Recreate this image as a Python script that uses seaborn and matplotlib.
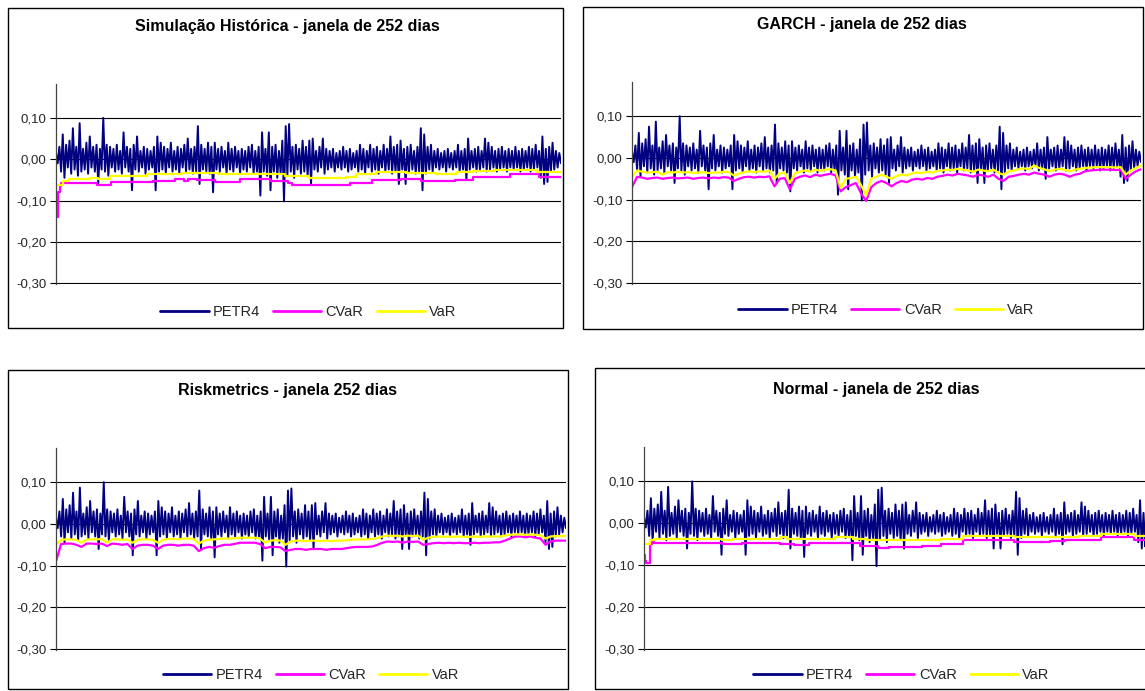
import numpy as np
import matplotlib
matplotlib.use("Agg")
import matplotlib.pyplot as plt
from matplotlib.patches import Rectangle
import seaborn as sns

# ---------------- data ----------------
n_days = 1500

# PETR4 daily returns, given as alternating local highs / lows
petr4_highs = [
    0.015, 0.030, 0.060, 0.035, 0.045, 0.075, 0.030, 0.087, 0.025, 0.040,
    0.055, 0.030, 0.035, 0.025, 0.100, 0.035, 0.030, 0.025, 0.035, 0.020,
    0.065, 0.030, 0.025, 0.035, 0.055, 0.020, 0.030, 0.025, 0.020, 0.030,
    0.055, 0.040, 0.030, 0.025, 0.040, 0.020, 0.030, 0.025, 0.035, 0.050,
    0.025, 0.030, 0.080, 0.035, 0.025, 0.040, 0.030, 0.040, 0.025, 0.030,
    0.020, 0.040, 0.025, 0.030, 0.020, 0.025, 0.020, 0.030, 0.035, 0.020,
    0.030, 0.065, 0.025, 0.065, 0.030, 0.035, 0.020, 0.045, 0.080, 0.085,
    0.030, 0.035, 0.025, 0.045, 0.030, 0.045, 0.050, 0.020, 0.030, 0.050,
    0.025, 0.020, 0.025, 0.015, 0.020, 0.030, 0.020, 0.025, 0.015, 0.020,
    0.035, 0.025, 0.020, 0.035, 0.025, 0.030, 0.020, 0.035, 0.025, 0.055,
    0.030, 0.035, 0.045, 0.025, 0.030, 0.035, 0.020, 0.030, 0.075, 0.060,
    0.030, 0.035, 0.020, 0.025, 0.015, 0.020, 0.025, 0.015, 0.020, 0.035,
    0.020, 0.025, 0.050, 0.020, 0.025, 0.030, 0.020, 0.050, 0.040, 0.030,
    0.020, 0.025, 0.030, 0.020, 0.025, 0.020, 0.030, 0.020, 0.025, 0.020,
    0.030, 0.025, 0.035, 0.020, 0.055, 0.025, 0.030, 0.040, 0.020, 0.015,
]
petr4_lows = [
    -0.010, -0.030, -0.045, -0.020, -0.035, -0.025, -0.040, -0.030, -0.025, -0.035,
    -0.020, -0.030, -0.060, -0.025, -0.030, -0.040, -0.020, -0.030, -0.025, -0.035,
    -0.020, -0.030, -0.075, -0.025, -0.030, -0.020, -0.035, -0.025, -0.020, -0.075,
    -0.030, -0.025, -0.035, -0.020, -0.030, -0.025, -0.035, -0.020, -0.030, -0.025,
    -0.035, -0.030, -0.060, -0.025, -0.030, -0.035, -0.080, -0.025, -0.030, -0.020,
    -0.035, -0.025, -0.030, -0.020, -0.035, -0.025, -0.030, -0.020, -0.035, -0.030,
    -0.088, -0.030, -0.040, -0.075, -0.030, -0.045, -0.035, -0.102, -0.040, -0.030,
    -0.045, -0.025, -0.035, -0.030, -0.040, -0.060, -0.025, -0.030, -0.020, -0.035,
    -0.025, -0.020, -0.030, -0.020, -0.025, -0.020, -0.030, -0.025, -0.020, -0.030,
    -0.025, -0.035, -0.020, -0.030, -0.025, -0.035, -0.020, -0.030, -0.025, -0.035,
    -0.030, -0.060, -0.025, -0.060, -0.030, -0.025, -0.035, -0.030, -0.075, -0.035,
    -0.025, -0.030, -0.020, -0.025, -0.020, -0.030, -0.020, -0.025, -0.020, -0.030,
    -0.025, -0.050, -0.025, -0.020, -0.030, -0.025, -0.020, -0.030, -0.025, -0.020,
    -0.030, -0.025, -0.020, -0.030, -0.020, -0.025, -0.020, -0.030, -0.025, -0.020,
    -0.030, -0.025, -0.020, -0.045, -0.060, -0.055, -0.030, -0.025, -0.020, -0.010,
]

# Historical simulation: step changes (day, value)
hs_cvar_days = [0, 3, 6, 11, 16, 121, 164, 289, 354, 381, 391, 419, 473, 548, 635,
                689, 700, 873, 938, 1024, 1084, 1186, 1240, 1349, 1435, 1500]
hs_cvar = [-0.110, -0.140, -0.080, -0.065, -0.057, -0.062, -0.055, -0.052, -0.048,
           -0.052, -0.048, -0.050, -0.055, -0.049, -0.053, -0.057, -0.062, -0.058,
           -0.050, -0.047, -0.053, -0.050, -0.043, -0.037, -0.044, -0.044]
hs_var_days = [0, 20, 40, 100, 125, 160, 270, 375, 480, 680, 750, 860, 890, 950,
               1040, 1130, 1190, 1240, 1300, 1430, 1500]
hs_var = [-0.063, -0.052, -0.047, -0.045, -0.048, -0.041, -0.037, -0.033, -0.036,
          -0.040, -0.046, -0.042, -0.036, -0.032, -0.034, -0.036, -0.032, -0.029,
          -0.027, -0.030, -0.032]

# GARCH and Riskmetrics: sampled every 15 days
garch_cvar = [
    -0.070, -0.045, -0.047, -0.050, -0.048, -0.047, -0.050, -0.048, -0.047, -0.049,
    -0.048, -0.047, -0.050, -0.048, -0.047, -0.049, -0.047, -0.048, -0.046, -0.047,
    -0.055, -0.050, -0.046, -0.045, -0.047, -0.045, -0.046, -0.044, -0.068, -0.050,
    -0.048, -0.075, -0.050, -0.045, -0.042, -0.046, -0.040, -0.043, -0.040, -0.038,
    -0.042, -0.080, -0.070, -0.065, -0.060, -0.085, -0.103, -0.070, -0.060, -0.055,
    -0.060, -0.068, -0.060, -0.055, -0.058, -0.052, -0.050, -0.052, -0.048, -0.050,
    -0.045, -0.043, -0.040, -0.042, -0.038, -0.040, -0.042, -0.045, -0.040, -0.042,
    -0.045, -0.040, -0.050, -0.055, -0.045, -0.043, -0.040, -0.038, -0.040, -0.035,
    -0.038, -0.040, -0.045, -0.040, -0.038, -0.040, -0.045, -0.040, -0.038, -0.032,
    -0.030, -0.029, -0.028, -0.028, -0.028, -0.029, -0.028, -0.050, -0.040, -0.032,
    -0.027,
]
garch_var = [
    -0.045, -0.030, -0.033, -0.035, -0.034, -0.033, -0.040, -0.034, -0.035, -0.033,
    -0.035, -0.034, -0.036, -0.035, -0.034, -0.036, -0.035, -0.035, -0.033, -0.034,
    -0.042, -0.038, -0.034, -0.032, -0.034, -0.032, -0.033, -0.030, -0.050, -0.037,
    -0.035, -0.060, -0.037, -0.033, -0.030, -0.033, -0.028, -0.031, -0.028, -0.027,
    -0.030, -0.072, -0.050, -0.048, -0.045, -0.065, -0.090, -0.050, -0.045, -0.040,
    -0.045, -0.050, -0.043, -0.040, -0.042, -0.037, -0.035, -0.036, -0.033, -0.035,
    -0.031, -0.030, -0.028, -0.029, -0.026, -0.028, -0.030, -0.033, -0.028, -0.030,
    -0.032, -0.028, -0.036, -0.040, -0.032, -0.030, -0.027, -0.025, -0.027, -0.018,
    -0.024, -0.027, -0.032, -0.028, -0.026, -0.028, -0.032, -0.028, -0.026, -0.024,
    -0.023, -0.022, -0.022, -0.022, -0.022, -0.023, -0.022, -0.040, -0.030, -0.024,
    -0.018,
]
rm_cvar = [
    -0.090, -0.048, -0.047, -0.047, -0.050, -0.055, -0.047, -0.047, -0.048, -0.047,
    -0.053, -0.047, -0.048, -0.050, -0.048, -0.060, -0.052, -0.050, -0.050, -0.052,
    -0.060, -0.052, -0.050, -0.050, -0.052, -0.050, -0.050, -0.052, -0.065, -0.058,
    -0.055, -0.057, -0.053, -0.050, -0.050, -0.048, -0.045, -0.045, -0.045, -0.045,
    -0.048, -0.058, -0.055, -0.055, -0.056, -0.065, -0.062, -0.060, -0.060, -0.062,
    -0.060, -0.060, -0.060, -0.062, -0.060, -0.060, -0.060, -0.058, -0.056, -0.055,
    -0.055, -0.055, -0.054, -0.050, -0.045, -0.042, -0.043, -0.042, -0.045, -0.042,
    -0.043, -0.042, -0.050, -0.048, -0.046, -0.045, -0.046, -0.045, -0.046, -0.045,
    -0.046, -0.046, -0.045, -0.046, -0.045, -0.045, -0.044, -0.044, -0.040, -0.035,
    -0.030, -0.030, -0.032, -0.030, -0.033, -0.035, -0.050, -0.042, -0.040, -0.040,
    -0.040,
]
rm_var = [
    -0.050, -0.038, -0.037, -0.037, -0.038, -0.045, -0.037, -0.037, -0.037, -0.036,
    -0.045, -0.037, -0.037, -0.038, -0.037, -0.045, -0.038, -0.037, -0.037, -0.038,
    -0.045, -0.038, -0.036, -0.036, -0.037, -0.035, -0.035, -0.036, -0.047, -0.040,
    -0.038, -0.037, -0.036, -0.035, -0.035, -0.034, -0.033, -0.033, -0.033, -0.033,
    -0.035, -0.045, -0.040, -0.039, -0.040, -0.050, -0.042, -0.040, -0.040, -0.041,
    -0.040, -0.040, -0.041, -0.040, -0.041, -0.040, -0.040, -0.039, -0.038, -0.037,
    -0.037, -0.037, -0.036, -0.034, -0.030, -0.028, -0.029, -0.028, -0.030, -0.028,
    -0.029, -0.028, -0.038, -0.033, -0.031, -0.030, -0.031, -0.030, -0.031, -0.030,
    -0.031, -0.031, -0.030, -0.031, -0.030, -0.030, -0.030, -0.030, -0.028, -0.026,
    -0.025, -0.025, -0.026, -0.025, -0.026, -0.027, -0.035, -0.030, -0.029, -0.029,
    -0.029,
]

# Normal: step changes (day, value)
normal_cvar_days = [0, 2, 7, 18, 23, 29, 226, 284, 396, 438, 481, 555, 630, 683, 715,
                    811, 864, 928, 1077, 1183, 1226, 1332, 1428, 1500]
normal_cvar = [-0.075, -0.090, -0.095, -0.050, -0.045, -0.047, -0.050, -0.047, -0.050,
               -0.052, -0.048, -0.047, -0.055, -0.058, -0.056, -0.055, -0.050, -0.040,
               -0.045, -0.042, -0.040, -0.033, -0.040, -0.040]
normal_var_days = [0, 18, 29, 226, 258, 396, 417, 555, 608, 650, 864, 928, 1077, 1268,
                   1332, 1428, 1500]
normal_var = [-0.050, -0.040, -0.037, -0.040, -0.037, -0.033, -0.037, -0.033, -0.037,
              -0.040, -0.037, -0.030, -0.033, -0.030, -0.025, -0.030, -0.030]

titles = [
    "Simulação Histórica - janela de 252 dias",
    "GARCH - janela de 252 dias",
    "Riskmetrics - janela 252 dias",
    "Normal - janela de 252 dias",
]
series_names = ["PETR4", "CVaR", "VaR"]
series_colors = ["#000080", "#FF00FF", "#FFFF00"]
ytick_values = [0.10, 0.00, -0.10, -0.20, -0.30]
ytick_labels = ["0,10", "0,00", "-0,10", "-0,20", "-0,30"]

# ---------------- build series ----------------
petr4 = np.column_stack([petr4_highs, petr4_lows]).ravel()
petr4_days = np.linspace(0, n_days, len(petr4))
sample_days = np.arange(len(garch_cvar)) * 15

risk_series = [
    ((hs_cvar_days, hs_cvar), (hs_var_days, hs_var), "steps-post"),
    ((sample_days, garch_cvar), (sample_days, garch_var), "default"),
    ((sample_days, rm_cvar), (sample_days, rm_var), "default"),
    ((normal_cvar_days, normal_cvar), (normal_var_days, normal_var), "steps-post"),
]

# ---------------- layout (pixels) ----------------
W, H = 1145, 691
sns.set_style("white")
plt.rcParams["font.family"] = ["Liberation Sans", "DejaVu Sans"]

fig = plt.figure(figsize=(W / 100, H / 100), dpi=100)
fig.patch.set_facecolor("white")

panels = [
    dict(frame=(8, 8, 563, 328), axes=(56, 84, 561, 284), title=(287, 27), leg=312),
    dict(frame=(583, 7, 1143, 329), axes=(632, 82, 1141, 284), title=(862, 25), leg=310),
    dict(frame=(8, 370, 568, 689), axes=(56, 448, 566, 650), title=(287, 391), leg=675),
    dict(frame=(595, 368, 1170, 689), axes=(644, 447, 1159, 650), title=(876, 389), leg=675),
]


def fig_rect(x0, y0, x1, y1):
    return [x0 / W, 1 - y1 / H, (x1 - x0) / W, (y1 - y0) / H]


for i, p in enumerate(panels):
    fx0, fy0, fx1, fy1 = p["frame"]
    fig.add_artist(Rectangle((fx0 / W, 1 - fy1 / H), (fx1 - fx0) / W, (fy1 - fy0) / H,
                             transform=fig.transFigure, fill=False,
                             edgecolor="black", linewidth=1.0, zorder=0))
    ax = fig.add_axes(fig_rect(*p["axes"]))
    ax.set_facecolor("none")
    ax0, ay0, ax1, ay1 = p["axes"]
    ax.set_ylim(-0.302, 0.182)
    ax.set_xlim(0, n_days)

    (cd, cv), (vd, vv), ds = risk_series[i]
    sns.lineplot(x=petr4_days, y=petr4, ax=ax, color=series_colors[0], linewidth=1.4,
                 estimator=None, sort=False, label=series_names[0])
    sns.lineplot(x=cd, y=cv, ax=ax, color=series_colors[1], linewidth=1.6,
                 estimator=None, sort=False, drawstyle=ds, label=series_names[1])
    sns.lineplot(x=vd, y=vv, ax=ax, color=series_colors[2], linewidth=1.6,
                 estimator=None, sort=False, drawstyle=ds, label=series_names[2])

    ax.set_yticks(ytick_values)
    ax.set_yticklabels(ytick_labels)
    ax.set_xticks([])
    ax.set_xlabel("")
    ax.set_ylabel("")
    ax.grid(axis="y", color="black", linewidth=0.8)
    ax.grid(axis="x", visible=False)
    ax.set_axisbelow(True)
    for s in ["top", "right", "bottom"]:
        ax.spines[s].set_visible(False)
    ax.spines["left"].set_color("#444444")
    ax.spines["left"].set_linewidth(0.9)
    ax.tick_params(axis="y", direction="out", length=4, width=0.8, color="black",
                   labelsize=9.5, pad=3, left=True)

    handles, labels = ax.get_legend_handles_labels()
    leg = ax.legend(handles, labels, loc="center",
                    bbox_to_anchor=(0.5, -(p["leg"] - ay1) / (ay1 - ay0)),
                    ncol=3, frameon=False, fontsize=10.5, handlelength=3.3,
                    handletextpad=0.3, columnspacing=0.9, borderaxespad=0)
    for ln in leg.get_lines():
        ln.set_linewidth(2.0)

    tx, ty = p["title"]
    fig.text(tx / W, 1 - ty / H, titles[i], ha="center", va="center",
             fontsize=11.5, fontweight="bold", color="black")

fig.savefig("out.png", dpi=100, facecolor="white")
